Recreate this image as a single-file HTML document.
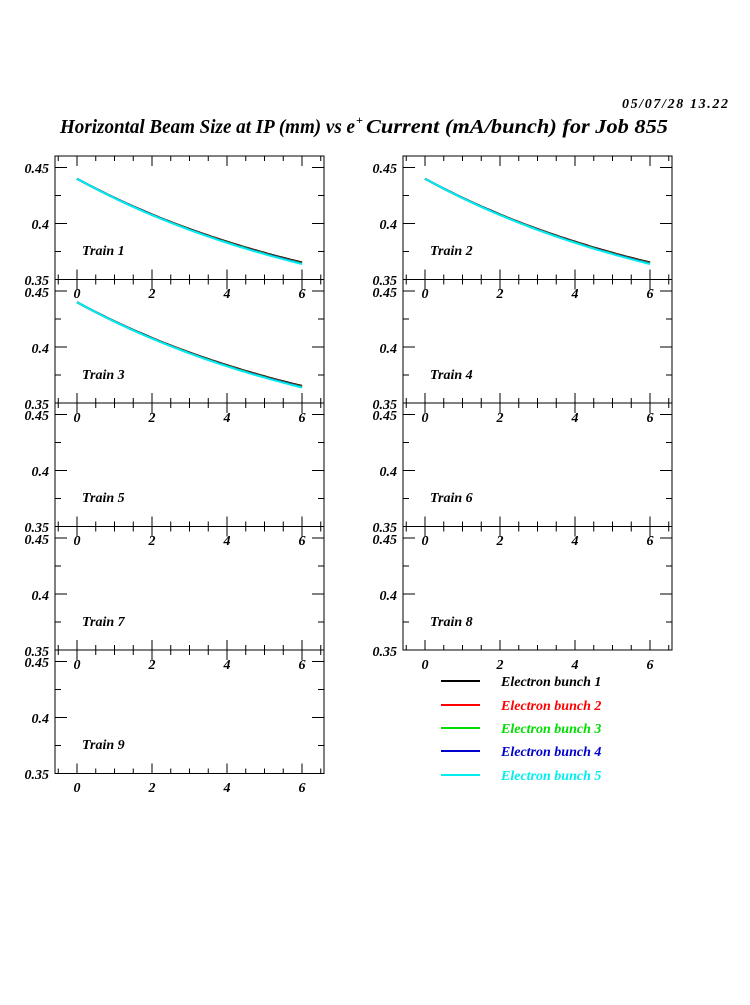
<!DOCTYPE html>
<html><head><meta charset="utf-8"><style>
body{margin:0;background:#fff}
svg text{font-family:"Liberation Serif",serif;font-weight:bold;font-style:italic}
</style></head><body>
<svg id="s" width="750" height="1000" xmlns="http://www.w3.org/2000/svg">
<text x="622" y="108" font-size="14" textLength="106" lengthAdjust="spacing">05/07/28   13.22</text>
<text y="133" font-size="20"><tspan x="60" textLength="295" lengthAdjust="spacingAndGlyphs">Horizontal Beam Size at IP (mm) vs e</tspan><tspan x="356" y="124" font-size="12">+</tspan><tspan x="366" y="133" textLength="302" lengthAdjust="spacingAndGlyphs">Current (mA/bunch) for Job 855</tspan></text>
<g id="g"></g>
<g font-size="14">
<line x1="441" y1="681" x2="480" y2="681" stroke="#000" stroke-width="2"/><text x="501" y="686" fill="#000">Electron bunch 1</text>
<line x1="441" y1="705" x2="480" y2="705" stroke="#f00" stroke-width="2"/><text x="501" y="710" fill="#f00">Electron bunch 2</text>
<line x1="441" y1="728" x2="480" y2="728" stroke="#0d0" stroke-width="2"/><text x="501" y="733" fill="#0d0">Electron bunch 3</text>
<line x1="441" y1="751" x2="480" y2="751" stroke="#00c" stroke-width="2"/><text x="501" y="756" fill="#00c">Electron bunch 4</text>
<line x1="441" y1="775" x2="480" y2="775" stroke="#0ee" stroke-width="2"/><text x="501" y="780" fill="#0ee">Electron bunch 5</text>
</g>
</svg>
<script>
var ns="http://www.w3.org/2000/svg",g=document.getElementById("g");
function el(t,a,p){var e=document.createElementNS(ns,t);for(var k in a)e.setAttribute(k,a[k]);(p||g).appendChild(e);return e;}
var H=123.5;
for(var i=0;i<9;i++){
 var col=i%2,row=Math.floor(i/2);
 var L=55+348*col,R=L+269,T=156+H*row,B=T+H;
 var X=function(x){return L+22+37.5*x},Y=function(v){return B-(v-0.35)*1120};
 el("rect",{x:L,y:T,width:R-L,height:B-T,fill:"none",stroke:"#000","stroke-width":1});
 var d="";
 for(var k=-1;k<=13;k++){var x=X(k*0.5);var len=(k%4==0)?10:5;d+="M"+x+" "+B+"v"+(-len)+"M"+x+" "+T+"v"+len;}
 for(var k=0;k<=4;k++){var y=Y(0.35+k*0.025);var len=(k%2==0)?12:6;d+="M"+L+" "+y+"h"+len+"M"+R+" "+y+"h"+(-len);}
 el("path",{d:d,stroke:"#000","stroke-width":1,fill:"none"});
 if(i<3){
  var cs=[["#000",0.3055,0.1345],["#f00",0.3045,0.1355],["#0d0",0.304,0.136],["#00c",0.3035,0.1365],["#0ee",0.303,0.137]];
  cs.forEach(function(c){var p="";for(var x=0;x<=6.001;x+=0.1){p+=(x==0?"M":"L")+X(x).toFixed(1)+" "+Y(c[1]+c[2]*Math.pow(0.8735,x)).toFixed(1);}
   el("path",{d:p,stroke:c[0],"stroke-width":2,fill:"none"});});
 }
}
</script>
<div style="position:absolute;left:0;top:0">
<svg width="750" height="1000" xmlns="http://www.w3.org/2000/svg" style="font-family:'Liberation Serif',serif;font-weight:bold;font-style:italic;font-size:14px">
<g text-anchor="end">
<text x="49" y="173">0.45</text><text x="49" y="229">0.4</text><text x="49" y="285">0.35</text>
<text x="49" y="297">0.45</text><text x="49" y="353">0.4</text><text x="49" y="409">0.35</text>
<text x="49" y="420">0.45</text><text x="49" y="476">0.4</text><text x="49" y="532">0.35</text>
<text x="49" y="544">0.45</text><text x="49" y="600">0.4</text><text x="49" y="656">0.35</text>
<text x="49" y="667">0.45</text><text x="49" y="723">0.4</text><text x="49" y="779">0.35</text>
<text x="397" y="173">0.45</text><text x="397" y="229">0.4</text><text x="397" y="285">0.35</text>
<text x="397" y="297">0.45</text><text x="397" y="353">0.4</text><text x="397" y="409">0.35</text>
<text x="397" y="420">0.45</text><text x="397" y="476">0.4</text><text x="397" y="532">0.35</text>
<text x="397" y="544">0.45</text><text x="397" y="600">0.4</text><text x="397" y="656">0.35</text>
</g>
<g text-anchor="middle">
<text x="77" y="298">0</text><text x="152" y="298">2</text><text x="227" y="298">4</text><text x="302" y="298">6</text>
<text x="77" y="422">0</text><text x="152" y="422">2</text><text x="227" y="422">4</text><text x="302" y="422">6</text>
<text x="77" y="545">0</text><text x="152" y="545">2</text><text x="227" y="545">4</text><text x="302" y="545">6</text>
<text x="77" y="669">0</text><text x="152" y="669">2</text><text x="227" y="669">4</text><text x="302" y="669">6</text>
<text x="77" y="792">0</text><text x="152" y="792">2</text><text x="227" y="792">4</text><text x="302" y="792">6</text>
<text x="425" y="298">0</text><text x="500" y="298">2</text><text x="575" y="298">4</text><text x="650" y="298">6</text>
<text x="425" y="422">0</text><text x="500" y="422">2</text><text x="575" y="422">4</text><text x="650" y="422">6</text>
<text x="425" y="545">0</text><text x="500" y="545">2</text><text x="575" y="545">4</text><text x="650" y="545">6</text>
<text x="425" y="669">0</text><text x="500" y="669">2</text><text x="575" y="669">4</text><text x="650" y="669">6</text>
</g>
<text x="82" y="255">Train 1</text><text x="430" y="255">Train 2</text>
<text x="82" y="379">Train 3</text><text x="430" y="379">Train 4</text>
<text x="82" y="502">Train 5</text><text x="430" y="502">Train 6</text>
<text x="82" y="626">Train 7</text><text x="430" y="626">Train 8</text>
<text x="82" y="749">Train 9</text>
</svg></div>
</body></html>
